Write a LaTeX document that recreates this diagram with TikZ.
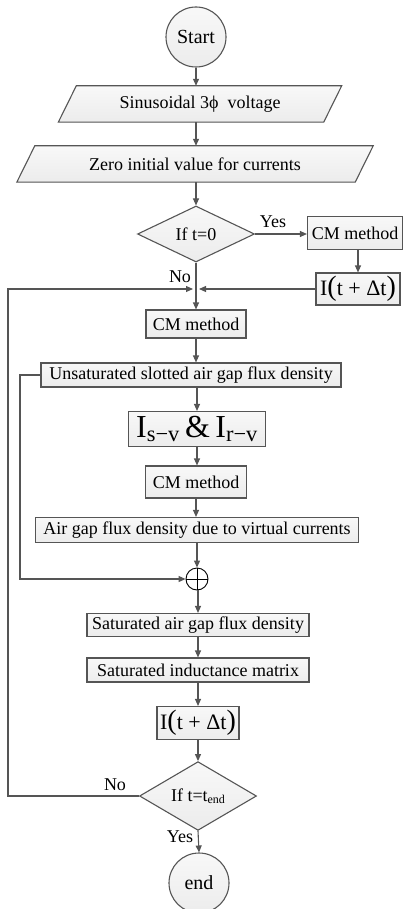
\documentclass[tikz,border=0pt]{standalone}
\usepackage{fontspec}
\setmainfont{Liberation Serif}
\usetikzlibrary{shapes.geometric,arrows.meta,calc,backgrounds}
\definecolor{ln}{RGB}{85,85,85}
\definecolor{fltop}{RGB}{248,248,248}
\definecolor{flbot}{RGB}{236,236,236}
\begin{document}
\begin{tikzpicture}[x=1pt,y=-1pt,
  txt/.style={font=\fontsize{18}{20}\selectfont, text=black, inner sep=0pt},
  box/.style={txt, rectangle, draw=ln, line width=1.1pt, top color=fltop, bottom color=flbot},
  circ/.style={txt, circle, draw=ln, line width=1.1pt, top color=fltop, bottom color=flbot, minimum size=60pt, font=\fontsize{20}{22}\selectfont},
  dia/.style={txt, diamond, draw=ln, line width=1.1pt, top color=fltop, bottom color=flbot, minimum width=117pt, minimum height=56pt},
  pnode/.style={txt, rectangle, minimum height=36pt},
  pshape/.style={draw=ln, line width=1.1pt, top color=fltop, bottom color=flbot},
  lbl/.style={txt},
  arr/.style={draw=ln, line width=1.1pt, -{Triangle[length=7pt,width=6pt]}}
]
\useasboundingbox (0,0) rectangle (405,909);

\node[circ] (start) at (196,37) {Start};

\node[pnode, minimum width=265pt] (p1) at (200,104) {Sinusoidal 3ϕ\ \ voltage};
\node[pnode, minimum width=338pt] (p2) at (195,164) {Zero initial value for currents};
\begin{scope}[on background layer]
  \path[pshape] ($(p1.north west)+(9,0)$) -- ($(p1.north east)+(9,0)$) -- ($(p1.south east)+(-9,0)$) -- ($(p1.south west)+(-9,0)$) -- cycle;
  \path[pshape] ($(p2.north west)+(9,0)$) -- ($(p2.north east)+(9,0)$) -- ($(p2.south east)+(-9,0)$) -- ($(p2.south west)+(-9,0)$) -- cycle;
\end{scope}

\node[dia] (d1) at (196,234) {If t=0};
\node[lbl] (yes1) at (273,222) {Yes};
\node[box, minimum width=95pt, minimum height=33pt] (cm1) at (355,233) {CM method};
\node[box, minimum width=84pt, minimum height=32pt] (i1) at (358,289) {\fontsize{22}{24}\selectfont I{\fontsize{28}{28}\selectfont(}t + Δt{\fontsize{28}{28}\selectfont)}};
\node[lbl] (no1) at (180,277) {No};
\coordinate (j1) at (196,289);

\node[box, minimum width=100pt, minimum height=28pt] (cm2) at (196,324) {CM method};
\node[box, minimum width=300pt, minimum height=24pt] (unsat) at (191,375) {Unsaturated slotted air gap flux density};
\node[box, minimum width=137pt, minimum height=35pt] (isv) at (197,429) {\fontsize{32}{34}\selectfont I\textsubscript{s−v}\,\&\,I\textsubscript{r−v}};
\node[box, minimum width=101pt, minimum height=32pt] (cm3) at (196,482) {CM method};
\node[box, minimum width=323pt, minimum height=25pt] (air) at (197,530) {Air gap flux density due to virtual currents};
\node[circle, draw=black, line width=0.9pt, fill=white, minimum size=22pt, inner sep=0pt] (plus) at (197,579) {};
\draw[black, line width=0.9pt] (plus.north) -- (plus.south) (plus.west) -- (plus.east);
\node[box, minimum width=222pt, minimum height=23pt] (sat1) at (198,625) {Saturated air gap flux density};
\node[box, minimum width=222pt, minimum height=24pt] (sat2) at (198,670) {Saturated inductance matrix};
\node[box, minimum width=82pt, minimum height=33pt] (i2) at (198,723) {\fontsize{22}{24}\selectfont I{\fontsize{28}{28}\selectfont(}t + Δt{\fontsize{28}{28}\selectfont)}};
\node[dia, minimum height=55pt] (d2) at (198,796) {If t=t{\fontsize{12}{12}\selectfont\raisebox{-2pt}{end}}};
\node[lbl] (no2) at (115,785) {No};
\node[lbl] (yes2) at (180,837) {Yes};
\node[circ] (end) at (199,883) {end};

\coordinate (lx) at (20,0);
\coordinate (bx) at (8,0);

\draw[arr] (start.south) -- (start.south |- p1.north);
\draw[arr] (p1.south -| start) -- (p2.north -| start);
\draw[arr] (p2.south -| start) -- (d1.north);
\draw[arr] (d1.east) -- (d1.east -| cm1.west);
\draw[arr] (cm1.south -| i1) -- (i1.north);
\draw[arr, shorten >=3pt] (i1.west) -- (j1);
\draw[arr] (d1.south) -- (cm2.north);
\draw[arr] (cm2.south) -- (cm2.south |- unsat.north);
\draw[arr] (unsat.south -| isv) -- (isv.north);
\draw[arr] (isv.south) -- (isv.south |- cm3.north);
\draw[arr] (cm3.south) -- (cm3.south |- air.north);
\draw[arr] (air.south) -- (plus.north);
\draw[arr] (unsat.west) -- (unsat.west -| lx) |- (plus.west);
\draw[arr] (plus.south -| sat1) -- (sat1.north);
\draw[arr] (sat1.south) -- (sat2.north);
\draw[arr] (sat2.south) -- (i2.north);
\draw[arr] (i2.south) -- (d2.north);
\draw[arr] (d2.south) -- (end.north);
\draw[arr, shorten >=3pt] (d2.west) -- (d2.west -| bx) |- (j1);
\end{tikzpicture}
\end{document}
